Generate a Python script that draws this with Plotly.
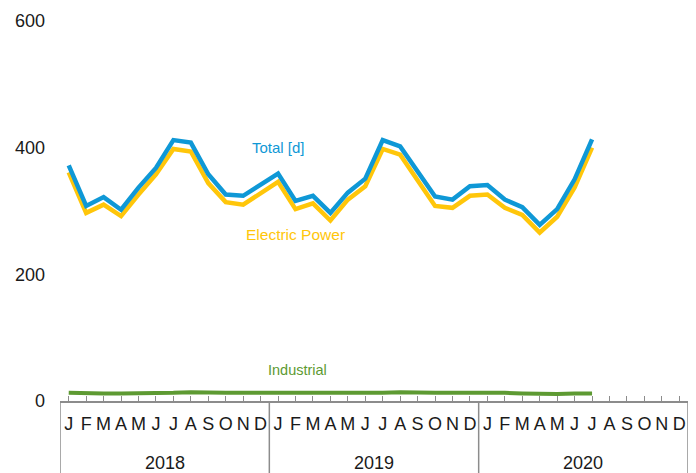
import plotly.graph_objects as go

month_letters = ["J", "F", "M", "A", "M", "J", "J", "A", "S", "O", "N", "D"]
years = ["2018", "2019", "2020"]

total = [372, 308, 322, 302, 337, 368, 412, 408, 358, 326, 324, 342,
         359, 316, 324, 297, 329, 351, 412, 402, 363, 323, 318, 339,
         341, 318, 306, 278, 303, 350, 413]
electric = [361, 297, 310, 292, 326, 358, 398, 394, 344, 314, 310, 329,
            346, 303, 312, 285, 318, 339, 398, 389, 349, 308, 305, 324,
            326, 305, 294, 266, 291, 337, 400]
industrial = [13, 12, 12, 12, 12, 13, 13, 14, 13, 13, 13, 13,
              13, 12, 13, 12, 12, 12, 13, 14, 13, 13, 13, 13,
              14, 13, 12, 11, 11, 12, 12]

y_ticks = [0, 200, 400, 600]

n_months = len(month_letters) * len(years)
x_all = list(range(n_months))
x_data = x_all[:len(total)]
tick_text = month_letters * len(years)

BLUE = "#0f98d6"
YELLOW = "#ffc60a"
GREEN = "#5d9a32"
GRAY = "#8c8c8c"
FONT = "Liberation Sans, Arial, sans-serif"

fig = go.Figure()
fig.add_trace(go.Scatter(x=x_data, y=industrial, mode="lines",
                         line=dict(color=GREEN, width=4), name="Industrial"))
fig.add_trace(go.Scatter(x=x_data, y=electric, mode="lines",
                         line=dict(color=YELLOW, width=4.5), name="Electric Power"))
fig.add_trace(go.Scatter(x=x_data, y=total, mode="lines",
                         line=dict(color=BLUE, width=4.5), name="Total [d]"))

# series labels
fig.add_annotation(x=12.0, y=400, text="Total [d]", showarrow=False,
                   font=dict(color=BLUE, size=15, family=FONT), xanchor="center", yanchor="middle")
fig.add_annotation(x=13.0, y=263, text="Electric Power", showarrow=False,
                   font=dict(color=YELLOW, size=15.5, family=FONT), xanchor="center", yanchor="middle")
fig.add_annotation(x=13.1, y=49, text="Industrial", showarrow=False,
                   font=dict(color=GREEN, size=14.5, family=FONT), xanchor="center", yanchor="middle")

# year separators and labels
for i in range(len(years) + 1):
    xpos = i * 12 - 0.5
    fig.add_shape(type="line", xref="x", yref="paper", x0=xpos, x1=xpos,
                  y0=0, y1=-0.2, line=dict(color=GRAY, width=1.5))
for i, yr in enumerate(years):
    fig.add_annotation(x=i * 12 + 5.5, y=-0.163, xref="x", yref="paper", text=yr,
                       showarrow=False, font=dict(size=18, color="#1a1a1a", family=FONT),
                       xanchor="center", yanchor="middle")

fig.update_layout(
    width=696, height=473,
    margin=dict(l=60, r=8, t=21, b=72),
    paper_bgcolor="white", plot_bgcolor="white",
    showlegend=False,
    font=dict(family=FONT, color="#1a1a1a"),
    xaxis=dict(range=[-0.5, n_months - 0.5], tickvals=x_all, ticktext=tick_text,
               ticks="inside", ticklen=5, tickwidth=1, tickcolor=GRAY,
               showline=True, linecolor=GRAY, linewidth=1.5,
               showgrid=False, zeroline=False, automargin=False,
               tickfont=dict(size=18, color="#1a1a1a", family=FONT),
               ticklabelstandoff=6),
    yaxis=dict(range=[0, 600], tickvals=y_ticks, showgrid=False, zeroline=False,
               showline=False, ticks="", automargin=False,
               tickfont=dict(size=18, color="#1a1a1a", family=FONT),
               ticklabelstandoff=14),
)

fig.write_html("out.html", config={"displayModeBar": False},
               post_script="document.body.style.margin='0px';")
